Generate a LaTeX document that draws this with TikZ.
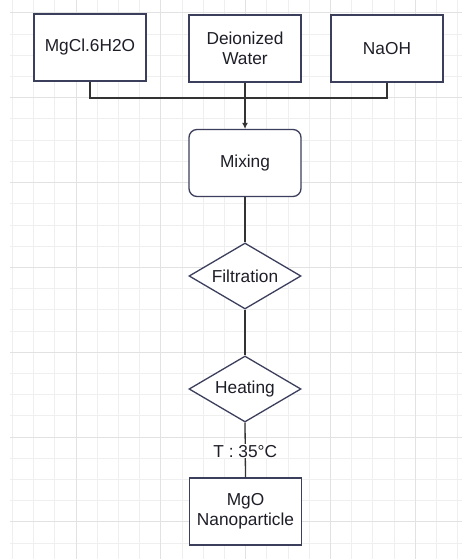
\documentclass[tikz,border=0pt]{standalone}
\usepackage{fontspec}
\setmainfont{Liberation Sans}
\usetikzlibrary{shapes.geometric,arrows.meta}
\definecolor{gridminor}{HTML}{EFEFEF}
\definecolor{gridmajor}{HTML}{E2E2E2}
\definecolor{boxline}{HTML}{3B3F5C}
\definecolor{conline}{HTML}{333333}
\definecolor{txt}{HTML}{1E1E28}
\tikzset{
  procbox/.style={draw=boxline, line width=1.3pt, fill=white, rectangle,
    minimum width=112pt, minimum height=67pt, inner sep=0pt, align=center,
    text=txt, font=\fontsize{17.3}{20}\selectfont},
  roundbox/.style={procbox, rounded corners=8pt},
  decbox/.style={draw=boxline, line width=1.3pt, fill=white, diamond, aspect=1.7,
    minimum width=112pt, minimum height=66pt, inner sep=0pt,
    text=txt, font=\fontsize{17.3}{20}\selectfont},
  conn/.style={draw=conline, line width=1.3pt},
  lbl/.style={fill=white, inner sep=1pt, text=txt, font=\fontsize{17.3}{20}\selectfont}
}
\begin{document}
\begin{tikzpicture}[x=1pt,y=-1pt]
\useasboundingbox (0,0) rectangle (462,559);
\fill[white] (0,0) rectangle (462,559);
% grid
\foreach \i in {0,...,21}{
  \draw[gridminor, line width=1pt] ({76+21.2*(\i-3)},0) -- ({76+21.2*(\i-3)},559);
}
\foreach \j in {0,...,25}{
  \draw[gridminor, line width=1pt] (10,{13+21.2*\j}) -- (462,{13+21.2*\j});
}
\foreach \i in {0,...,4}{
  \draw[gridmajor, line width=1pt] ({76+84.8*\i},0) -- ({76+84.8*\i},559);
}
\foreach \j in {0,...,6}{
  \draw[gridmajor, line width=1pt] (10,{13+84.8*\j}) -- (462,{13+84.8*\j});
}
% nodes
\node[procbox] (mg) at (90,47.5) {MgCl.6H2O};
\node[procbox] (dw) at (245,48.5) {Deionized\\Water};
\node[procbox] (na) at (387,48.5) {NaOH};
\node[roundbox] (mix) at (245,163) {Mixing};
\node[decbox] (fil) at (245,276) {Filtration};
\node[decbox] (heat) at (245,389) {Heating};
\node[procbox] (mgo) at (245.5,511.5) {MgO\\Nanoparticle};
\coordinate (j) at (245,98);
% connectors
\draw[conn] (mg.south) |- (j);
\draw[conn] (na.south) |- (j);
\draw[conn, -{Latex[length=6pt,width=6pt]}] (dw.south) -- (mix.north);
\draw[conn] (mix.south) -- (fil.north);
\draw[conn] (fil.south) -- (heat.north);
\draw[conn] (heat.south) -- (mgo.north) node[lbl, pos=0.52] {T : 35°C};
\end{tikzpicture}
\end{document}
